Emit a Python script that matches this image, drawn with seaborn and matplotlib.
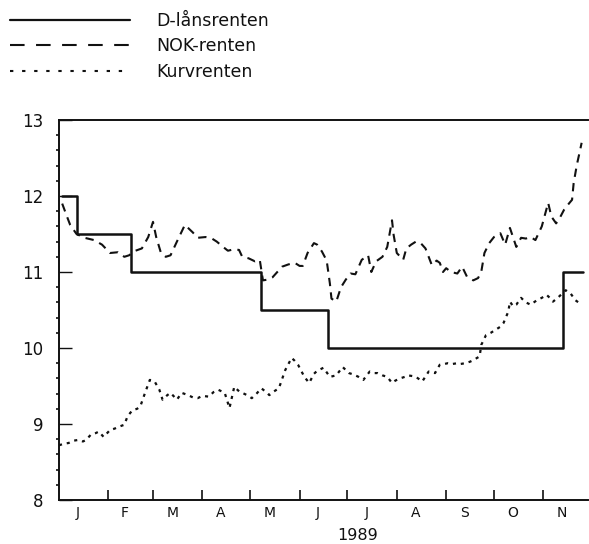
import matplotlib
matplotlib.use("Agg")
import matplotlib.pyplot as plt
import seaborn as sns
import pandas as pd
from matplotlib.lines import Line2D

# ---------------- data (x = day of year 1989, 0 = 1 Jan) ----------------
month_labels = ["J", "F", "M", "A", "M", "J", "J", "A", "S", "O", "N"]
month_starts = [0, 31, 59, 90, 120, 151, 181, 212, 243, 273, 304]
month_lengths = [31, 28, 31, 30, 31, 30, 31, 31, 30, 31, 30]
y_ticks = [8, 9, 10, 11, 12, 13]
year_label = "1989"

series_names = ["D-lånsrenten", "NOK-renten", "Kurvrenten"]

dlan_days = [2, 11, 45, 127, 169, 316, 329]
dlan_vals = [12.0, 11.5, 11.0, 10.5, 10.0, 11.0, 11.0]

nok_days = [2, 5, 7, 11, 16, 22, 27, 32, 37, 41, 44, 48, 52, 56, 59, 61, 64, 67, 70,
            74, 79, 84, 87, 92, 96, 99, 103, 106, 110, 113, 115, 119, 123, 126, 128,
            131, 134, 137, 140, 144, 148, 151, 153, 156, 160, 162, 165, 168, 170, 171,
            174, 177, 180, 183, 186, 190, 194, 196, 199, 203, 206, 209, 210, 212, 216,
            218, 221, 224, 227, 230, 234, 237, 239, 241, 243, 246, 250, 253, 256, 260,
            263, 265, 267, 270, 273, 277, 280, 283, 287, 290, 293, 296, 299, 303, 307,
            309, 312, 314, 317, 320, 322, 323, 325, 327, 328]
nok_vals = [11.90, 11.73, 11.62, 11.50, 11.45, 11.42, 11.36, 11.25, 11.26, 11.20, 11.22,
            11.28, 11.31, 11.46, 11.66, 11.46, 11.25, 11.20, 11.22, 11.40, 11.62, 11.52,
            11.45, 11.46, 11.44, 11.40, 11.33, 11.28, 11.30, 11.29, 11.20, 11.18, 11.14,
            11.16, 10.89, 10.90, 10.93, 11.00, 11.07, 11.10, 11.12, 11.08, 11.08, 11.25,
            11.38, 11.36, 11.27, 11.15, 10.85, 10.65, 10.61, 10.80, 10.90, 10.98, 10.97,
            11.16, 11.22, 11.00, 11.14, 11.20, 11.33, 11.68, 11.49, 11.25, 11.16, 11.31,
            11.36, 11.40, 11.38, 11.31, 11.09, 11.15, 11.12, 11.00, 11.05, 11.00, 10.98,
            11.07, 10.94, 10.89, 10.92, 11.00, 11.25, 11.38, 11.46, 11.51, 11.36, 11.58,
            11.33, 11.45, 11.44, 11.46, 11.42, 11.60, 11.91, 11.73, 11.64, 11.70, 11.82,
            11.90, 11.95, 12.17, 12.41, 12.60, 12.70]

kurv_days = [0, 3, 6, 9, 12, 15, 17, 20, 23, 25, 28, 32, 35, 37, 41, 43, 46, 49, 51, 54,
             57, 60, 63, 65, 68, 70, 74, 77, 81, 84, 87, 90, 94, 97, 100, 104, 107, 110,
             113, 115, 118, 121, 124, 127, 130, 132, 135, 138, 142, 146, 148, 150, 154,
             157, 160, 162, 166, 170, 174, 178, 182, 185, 188, 191, 195, 198, 200, 203,
             206, 209, 211, 214, 217, 219, 222, 224, 228, 232, 236, 239, 242, 244, 247,
             250, 252, 255, 258, 260, 264, 265, 268, 271, 274, 277, 279, 282, 283, 285,
             287, 290, 293, 296, 300, 303, 306, 308, 310, 313, 316, 318, 321, 324, 326, 328]
kurv_vals = [8.72, 8.74, 8.75, 8.78, 8.79, 8.77, 8.79, 8.86, 8.88, 8.90, 8.83, 8.92, 8.94,
             8.96, 8.99, 9.10, 9.18, 9.20, 9.23, 9.41, 9.58, 9.56, 9.45, 9.32, 9.38, 9.41,
             9.32, 9.41, 9.38, 9.35, 9.34, 9.37, 9.36, 9.42, 9.45, 9.41, 9.21, 9.49, 9.43,
             9.41, 9.38, 9.34, 9.40, 9.47, 9.42, 9.38, 9.43, 9.47, 9.71, 9.87, 9.83, 9.78,
             9.62, 9.54, 9.66, 9.70, 9.74, 9.62, 9.64, 9.75, 9.67, 9.65, 9.62, 9.58, 9.69,
             9.67, 9.67, 9.64, 9.62, 9.54, 9.57, 9.60, 9.62, 9.64, 9.63, 9.62, 9.56, 9.69,
             9.67, 9.78, 9.79, 9.80, 9.79, 9.80, 9.79, 9.80, 9.82, 9.84, 9.89, 10.04, 10.17,
             10.20, 10.24, 10.28, 10.33, 10.48, 10.61, 10.55, 10.57, 10.66, 10.60, 10.57,
             10.63, 10.66, 10.70, 10.66, 10.61, 10.66, 10.72, 10.76, 10.72, 10.63, 10.60, 10.61]

# ---------------- figure ----------------
sns.set_theme(style="white")
plt.rcParams["font.family"] = ["DejaVu Sans"]

W, H = 589, 544
fig = plt.figure(figsize=(W / 100, H / 100), dpi=100)
ax = fig.add_axes([59 / W, (H - 500) / H, 529 / W, 380 / H])

ink = "#111111"
sns.lineplot(x=dlan_days, y=dlan_vals, ax=ax, color=ink, lw=1.8,
             drawstyle="steps-post", estimator=None, sort=False)
sns.lineplot(x=nok_days, y=nok_vals, ax=ax, color=ink, lw=1.5,
             estimator=None, sort=False)
ax.lines[-1].set_dashes((4, 3))
sns.lineplot(x=kurv_days, y=kurv_vals, ax=ax, color=ink, lw=1.6,
             estimator=None, sort=False)
ax.lines[-1].set_dashes((1.4, 2.2))

ax.set_xlim(0, 332)
ax.set_ylim(8, 13)
ax.set_xlabel("")
ax.set_ylabel("")

for s in ["left", "bottom", "top"]:
    ax.spines[s].set_visible(True)
    ax.spines[s].set_color(ink)
    ax.spines[s].set_linewidth(1.4)
ax.spines["right"].set_visible(False)

# x ticks: month boundaries (inward marks), month letters in between
ax.set_xticks(month_starts[1:])
ax.set_xticklabels([])
label_pos = [s + l / 2 - 3.5 for s, l in zip(month_starts, month_lengths)]
ax.set_xticks(label_pos, minor=True)
ax.set_xticklabels(month_labels, minor=True, fontsize=10)
ax.tick_params(axis="x", which="major", direction="in", length=7, width=1.2,
               color=ink, bottom=True)
ax.tick_params(axis="x", which="minor", length=0, pad=4.5, colors=ink, bottom=True)

# y ticks
ax.set_yticks(y_ticks)
ax.set_yticklabels([str(v) for v in y_ticks], fontsize=12)
ax.set_yticks([8 + 0.2 * i for i in range(26) if i % 5 != 0], minor=True)
ax.tick_params(axis="y", which="major", direction="in", length=9.5, width=1.0,
               color=ink, pad=11, left=True, labelcolor=ink)
ax.tick_params(axis="y", which="minor", direction="out", length=2.2, width=1.2,
               color=ink, left=True)

ax.text((358 - 59) / 529, -(535 - 500) / 380, year_label, transform=ax.transAxes,
        ha="center", va="center", fontsize=11.5, color=ink)

# legend (top-left, outside the axes)
handles = [
    Line2D([], [], color=ink, lw=1.6),
    Line2D([], [], color=ink, lw=1.5, dashes=(7, 5.5)),
    Line2D([], [], color=ink, lw=1.5, dashes=(1.6, 4.2)),
]
fig.legend(handles, series_names, loc="upper left",
           bbox_to_anchor=(10 / W, 1 - 12 / H), frameon=False,
           prop={"family": "DejaVu Sans", "size": 12.5},
           handlelength=6.9, handletextpad=1.55, labelspacing=0.42,
           borderpad=0, borderaxespad=0, labelcolor=ink)

fig.savefig("out.png", dpi=100, facecolor="white")
